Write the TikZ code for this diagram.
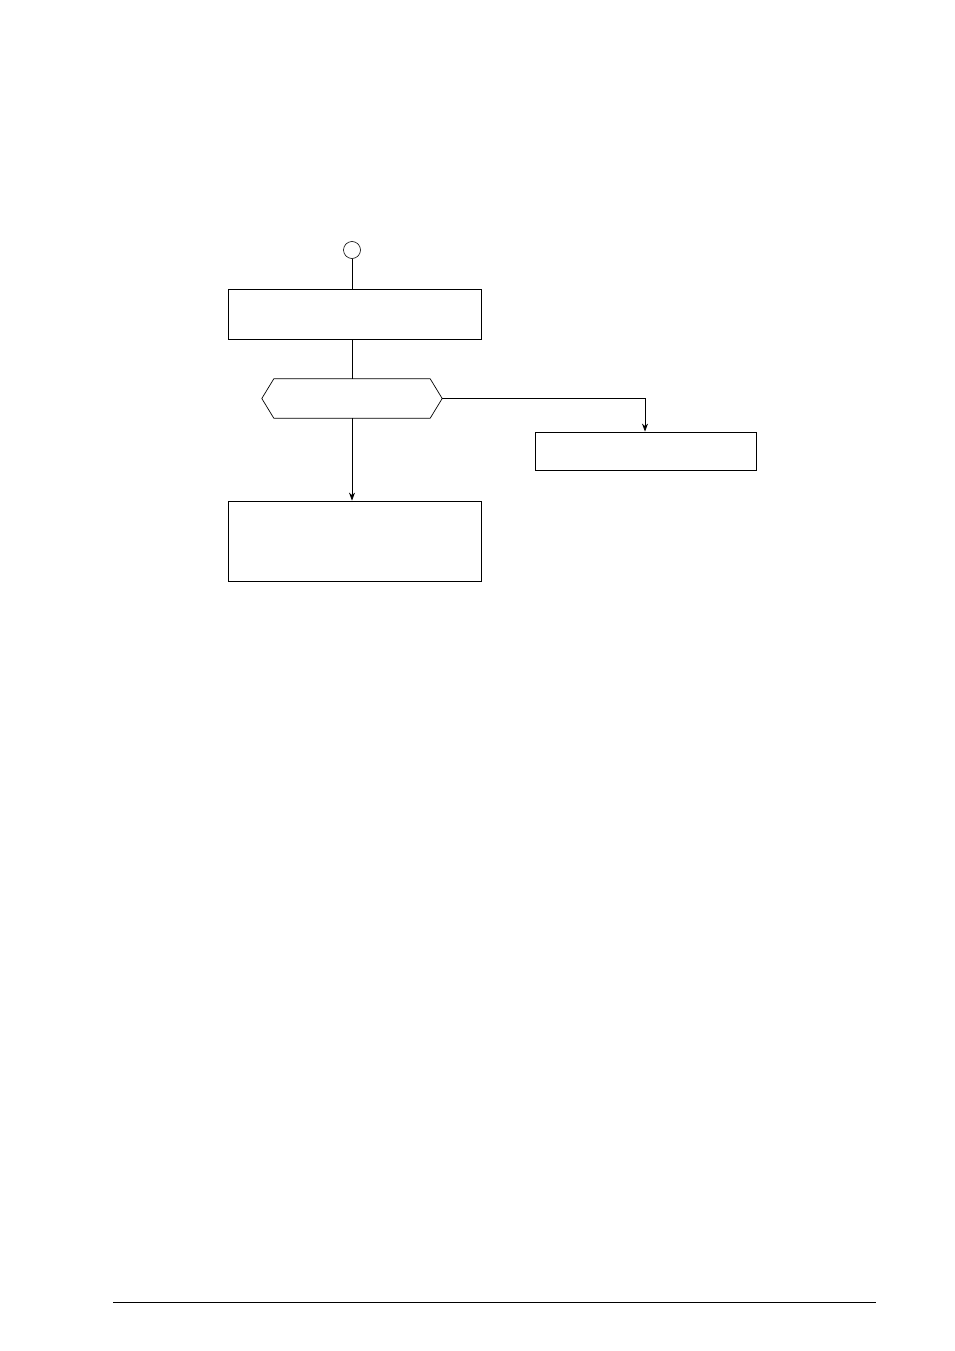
\documentclass[tikz,border=0pt]{standalone}
\usetikzlibrary{arrows.meta}
\begin{document}
\begin{tikzpicture}[x=1pt,y=-1pt,
  box/.style={draw,line width=0.8pt,inner sep=0pt},
  conn/.style={line width=0.8pt},
  arr/.style={line width=0.8pt,-{Stealth[length=8pt,width=6pt,inset=2.5pt]}}]
\useasboundingbox (0,0) rectangle (954,1351);
\node[draw,circle,line width=0.6pt,minimum size=17pt,inner sep=0pt] (start) at (352,250) {};
\node[box,minimum width=253pt,minimum height=50pt] (b1) at (354.5,314) {};
\node[minimum width=180pt,minimum height=39pt,inner sep=0pt] (hex) at (352,398.5) {};
\draw[line width=0.7pt] (hex.west) -- ([xshift=12pt]hex.north west) -- ([xshift=-12pt]hex.north east) -- (hex.east) -- ([xshift=-12pt]hex.south east) -- ([xshift=12pt]hex.south west) -- cycle;
\node[box,minimum width=221pt,minimum height=38pt] (b2) at (645.5,451) {};
\node[box,minimum width=253pt,minimum height=80pt] (b3) at (354.5,541) {};
\draw[conn] (start) -- (start |- b1.north);
\draw[conn] (b1.south -| start) -- (hex.north -| start);
\draw[arr] (hex.south -| start) -- (b3.north -| start);
\coordinate (bend) at (645,398.5);
\draw[arr] (hex.east) -- (bend) -- (b2.north -| bend);
\coordinate (fl) at (113,1302);
\coordinate (fr) at (876,1302);
\draw[line width=0.8pt] (fl) -- (fr);
\end{tikzpicture}
\end{document}
